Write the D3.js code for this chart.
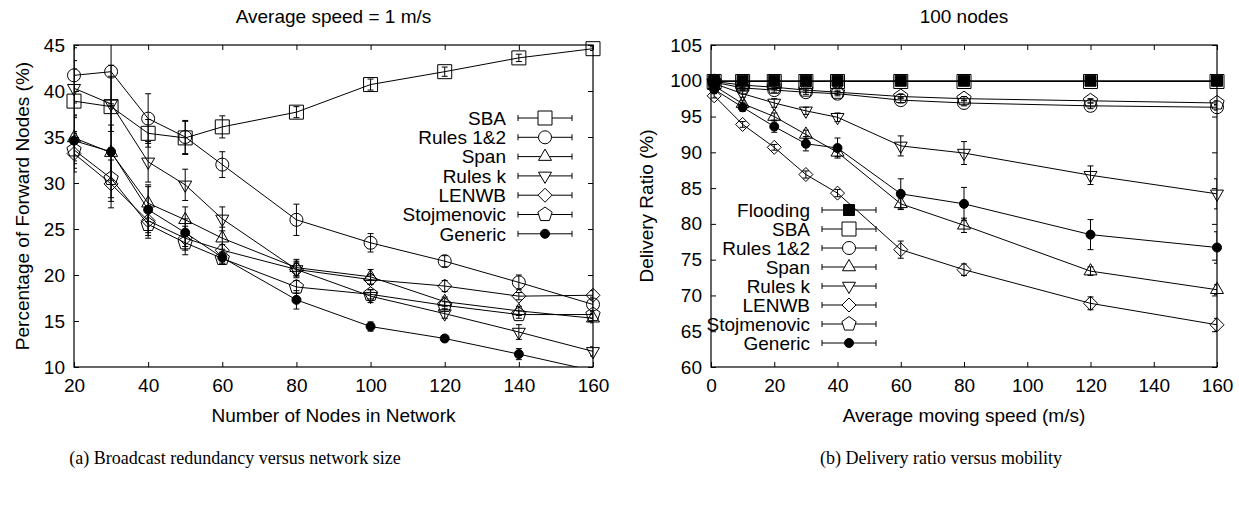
<!DOCTYPE html>
<html>
<head>
<meta charset="utf-8">
<title>Broadcast redundancy and delivery ratio</title>
<style>
  body { margin: 0; background: #fff; }
  svg text { font-family: "Liberation Sans", Arial, Helvetica, sans-serif; fill: #000; }
  .tick text { font-size: 19px; }
  .caption { font-family: "Liberation Serif", "Times New Roman", serif; font-size: 18px; }
</style>
<script src="https://d3js.org/d3.v7.min.js"></script>
</head>
<body>
<svg id="fig" width="1239" height="508"></svg>
<script>
// ---- (a) broadcast redundancy vs network size ----
var sizeNodes = [20, 30, 40, 50, 60, 80, 100, 120, 140, 160];
var sizeSBA     = [38.9, 38.3, 35.4, 34.9, 36.1, 37.7, 40.7, 42.1, 43.6, 44.6];
var sizeSBAErr  = [3.5, 4.5, 1.5, 1.8, 1.2, 0.6, 0.6, 0.5, 0.4, 0.2];
var sizeR12     = [41.7, 42.1, 37.0, 35.0, 32.0, 26.0, 23.5, 21.5, 19.2, 16.8];
var sizeR12Err  = [3.0, 3.5, 2.7, 1.8, 1.4, 1.7, 1.0, 0.6, 0.8, 0.8];
var sizeSpan    = [34.9, 33.3, 27.8, 26.0, 24.0, 20.8, 19.8, 17.1, 16.1, 15.3];
var sizeSpanErr = [2.5, 3.0, 2.0, 1.4, 1.2, 0.9, 0.8, 0.5, 0.5, 0.5];
var sizeRk      = [40.3, 38.6, 32.3, 29.8, 26.1, 20.6, 17.7, 15.8, 13.8, 11.7];
var sizeRkErr   = [3.0, 3.0, 2.2, 1.7, 1.3, 0.9, 0.7, 0.5, 0.8, 0.5];
var sizeLen     = [33.2, 29.9, 25.9, 24.0, 22.7, 20.6, 19.5, 18.8, 17.7, 17.8];
var sizeLenErr  = [2.0, 2.6, 1.6, 1.3, 0.6, 0.7, 0.5, 0.6, 0.4, 0.5];
var sizeStoj    = [33.6, 30.5, 25.5, 23.5, 21.8, 18.7, 17.9, 16.7, 15.7, 15.7];
var sizeStojErr = [2.0, 2.5, 1.5, 1.3, 0.6, 0.7, 0.5, 0.4, 0.4, 0.4];
var sizeGen     = [34.6, 33.4, 27.1, 24.6, 21.9, 17.3, 14.4, 13.1, 11.4, 9.6];
var sizeGenErr  = [2.5, 5.0, 2.5, 1.5, 0.6, 1.0, 0.5, 0.3, 0.6, 0.3];
var sizeXTicks = [20, 40, 60, 80, 100, 120, 140, 160];
var sizeYTicks = [10, 15, 20, 25, 30, 35, 40, 45];

// ---- (b) delivery ratio vs mobility ----
var speeds = [1, 10, 20, 30, 40, 60, 80, 120, 160];
var spFlood    = [100, 100, 100, 100, 100, 100, 100, 100, 100];
var spFloodErr = [0.05, 0.05, 0.05, 0.05, 0.05, 0.05, 0.05, 0.05, 0.05];
var spSBA      = [99.9, 99.9, 99.9, 99.9, 99.9, 99.9, 99.9, 99.9, 99.9];
var spSBAErr   = [0.1, 0.1, 0.1, 0.1, 0.1, 0.1, 0.1, 0.1, 0.1];
var spR12      = [99.8, 99.0, 98.7, 98.4, 98.2, 97.3, 96.9, 96.5, 96.3];
var spR12Err   = [0.1, 0.3, 0.3, 0.3, 0.3, 0.4, 0.4, 0.4, 0.4];
var spSpan     = [99.3, 96.8, 95.0, 92.5, 90.0, 82.8, 79.8, 73.4, 70.8];
var spSpanErr  = [0.2, 0.4, 0.5, 0.6, 0.6, 0.8, 1.0, 0.6, 0.7];
var spRk       = [99.6, 98.2, 96.9, 95.8, 94.9, 90.9, 89.9, 86.8, 84.2];
var spRkErr    = [0.2, 0.5, 0.6, 0.5, 0.6, 1.4, 1.6, 1.3, 2.1];
var spLen      = [97.9, 93.9, 90.7, 86.9, 84.3, 76.4, 73.6, 68.9, 65.9];
var spLenErr   = [0.3, 0.4, 0.4, 0.5, 0.5, 1.2, 0.8, 0.9, 0.9];
var spStoj     = [99.9, 99.4, 99.1, 98.7, 98.4, 97.8, 97.5, 97.2, 96.9];
var spStojErr  = [0.1, 0.3, 0.3, 0.3, 0.3, 0.3, 0.3, 0.3, 0.3];
var spGen      = [98.8, 96.3, 93.6, 91.2, 90.6, 84.2, 82.8, 78.5, 76.7];
var spGenErr   = [0.3, 0.6, 0.8, 1.0, 1.4, 2.1, 2.3, 2.1, 2.2];
var speedXTicks = [0, 20, 40, 60, 80, 100, 120, 140, 160];
var speedYTicks = [60, 65, 70, 75, 80, 85, 90, 95, 100, 105];

var svg = d3.select("#fig");

// marker paths, centred on 0,0
function poly(n, r, rot) {
  var pts = [];
  for (var i = 0; i < n; i++) {
    var a = rot + i * 2 * Math.PI / n;
    pts.push([r * Math.cos(a), r * Math.sin(a)]);
  }
  return "M" + pts.join("L") + "Z";
}
function markerPath(kind) {
  switch (kind) {
    case "square":  return "M-7,-7H7V7H-7Z";
    case "fsquare": return "M-5.5,-5.5H5.5V5.5H-5.5Z";
    case "circle":  return d3.symbol(d3.symbolCircle, Math.PI * 6.5 * 6.5)();
    case "dot":     return d3.symbol(d3.symbolCircle, Math.PI * 4.5 * 4.5)();
    case "tri":     return poly(3, 7.5, -Math.PI / 2);
    case "itri":    return poly(3, 7.5, Math.PI / 2);
    case "diamond": return poly(4, 7, 0);
    case "pent":    return poly(5, 7.5, -Math.PI / 2);
  }
}
function filled(kind) { return kind == "dot" || kind == "fsquare"; }

function panel(o) {
  var x = d3.scaleLinear().domain(o.xDomain).range([o.left, o.right]);
  var y = d3.scaleLinear().domain(o.yDomain).range([o.bottom, o.top]);
  var g = svg.append("g");

  var clipId = "clip" + o.id;
  g.append("clipPath").attr("id", clipId).append("rect")
    .attr("x", o.left).attr("y", o.top)
    .attr("width", o.right - o.left).attr("height", o.bottom - o.top);

  // axes with inside ticks on all four sides
  g.append("g").attr("transform", "translate(0," + o.bottom + ")")
    .call(d3.axisBottom(x).tickValues(o.xTicks).tickSize(-5).tickPadding(12).tickFormat(d3.format("d")));
  g.append("g").attr("transform", "translate(0," + o.top + ")")
    .call(d3.axisTop(x).tickValues(o.xTicks).tickSize(-5).tickFormat(""));
  g.append("g").attr("transform", "translate(" + o.left + ",0)")
    .call(d3.axisLeft(y).tickValues(o.yTicks).tickSize(-5).tickPadding(9).tickFormat(d3.format("d")));
  g.append("g").attr("transform", "translate(" + o.right + ",0)")
    .call(d3.axisRight(y).tickValues(o.yTicks).tickSize(-5).tickFormat(""));
  g.selectAll(".domain").remove();
  g.selectAll(".tick line").attr("stroke", "#000");

  g.append("rect").attr("x", o.left).attr("y", o.top)
    .attr("width", o.right - o.left).attr("height", o.bottom - o.top)
    .attr("fill", "none").attr("stroke", "#000").attr("stroke-width", 1.2);

  // labels
  g.append("text").attr("x", (o.left + o.right) / 2).attr("y", 23)
    .attr("text-anchor", "middle").style("font-size", "19px").text(o.title);
  g.append("text").attr("x", (o.left + o.right) / 2).attr("y", 422)
    .attr("text-anchor", "middle").style("font-size", "19px").text(o.xLabel);
  g.append("text").attr("transform", "translate(" + o.yLabelX + "," + ((o.top + o.bottom) / 2) + ") rotate(-90)")
    .attr("text-anchor", "middle").attr("dominant-baseline", "central")
    .style("font-size", "19px").text(o.yLabel);

  var line = d3.line().x(function (d) { return x(d[0]); }).y(function (d) { return y(d[1]); });

  o.series.forEach(function (s) {
    var pts = o.xs.map(function (xv, i) { return [xv, s.values[i], s.errs[i]]; });
    var sg = g.append("g");
    sg.append("path").attr("d", line(pts)).attr("fill", "none")
      .attr("stroke", "#000").attr("stroke-width", 1).attr("clip-path", "url(#" + clipId + ")");

    var inside = pts.filter(function (d) { return d[1] >= o.yDomain[0]; });
    var eb = sg.append("g").attr("stroke", "#000").attr("stroke-width", 1)
      .attr("clip-path", "url(#" + clipId + ")");
    inside.forEach(function (d) {
      var cx = x(d[0]), y1 = y(d[1] - d[2]), y2 = y(d[1] + d[2]);
      eb.append("line").attr("x1", cx).attr("x2", cx).attr("y1", y1).attr("y2", y2);
      eb.append("line").attr("x1", cx - 3).attr("x2", cx + 3).attr("y1", y1).attr("y2", y1);
      eb.append("line").attr("x1", cx - 3).attr("x2", cx + 3).attr("y1", y2).attr("y2", y2);
    });

    sg.selectAll("path.pt").data(inside).enter().append("path").attr("class", "pt")
      .attr("d", markerPath(s.marker))
      .attr("transform", function (d) { return "translate(" + x(d[0]) + "," + y(d[1]) + ")"; })
      .attr("fill", filled(s.marker) ? "#000" : "none")
      .attr("stroke", "#000").attr("stroke-width", 1);
  });

  // legend
  var lg = g.append("g");
  o.series.forEach(function (s, i) {
    var ly = o.legend.y + i * o.legend.step;
    var x1 = o.legend.x + 12, x2 = o.legend.x + 66, xm = (x1 + x2) / 2;
    lg.append("text").attr("x", o.legend.x).attr("y", ly).attr("dy", "0.36em")
      .attr("text-anchor", "end").style("font-size", "19px").text(s.name);
    lg.append("line").attr("x1", x1).attr("x2", x2).attr("y1", ly).attr("y2", ly).attr("stroke", "#000");
    lg.append("line").attr("x1", x1).attr("x2", x1).attr("y1", ly - 3).attr("y2", ly + 3).attr("stroke", "#000");
    lg.append("line").attr("x1", x2).attr("x2", x2).attr("y1", ly - 3).attr("y2", ly + 3).attr("stroke", "#000");
    lg.append("path").attr("d", markerPath(s.marker))
      .attr("transform", "translate(" + xm + "," + ly + ")")
      .attr("fill", filled(s.marker) ? "#000" : "#fff").attr("stroke", "#000");
  });
}

panel({
  id: "a", left: 74, right: 593, top: 45, bottom: 367,
  xDomain: [20, 160], yDomain: [10, 45], xTicks: sizeXTicks, yTicks: sizeYTicks,
  title: "Average speed = 1 m/s", xLabel: "Number of Nodes in Network",
  yLabel: "Percentage of Forward Nodes (%)", yLabelX: 22,
  xs: sizeNodes,
  legend: { x: 506, y: 118, step: 19.3 },
  series: [
    { name: "SBA", marker: "square", values: sizeSBA, errs: sizeSBAErr },
    { name: "Rules 1&2", marker: "circle", values: sizeR12, errs: sizeR12Err },
    { name: "Span", marker: "tri", values: sizeSpan, errs: sizeSpanErr },
    { name: "Rules k", marker: "itri", values: sizeRk, errs: sizeRkErr },
    { name: "LENWB", marker: "diamond", values: sizeLen, errs: sizeLenErr },
    { name: "Stojmenovic", marker: "pent", values: sizeStoj, errs: sizeStojErr },
    { name: "Generic", marker: "dot", values: sizeGen, errs: sizeGenErr }
  ]
});

panel({
  id: "b", left: 711, right: 1217, top: 45, bottom: 367,
  xDomain: [0, 160], yDomain: [60, 105], xTicks: speedXTicks, yTicks: speedYTicks,
  title: "100 nodes", xLabel: "Average moving speed (m/s)",
  yLabel: "Delivery Ratio (%)", yLabelX: 646,
  xs: speeds,
  legend: { x: 810, y: 210, step: 19 },
  series: [
    { name: "Flooding", marker: "fsquare", values: spFlood, errs: spFloodErr },
    { name: "SBA", marker: "square", values: spSBA, errs: spSBAErr },
    { name: "Rules 1&2", marker: "circle", values: spR12, errs: spR12Err },
    { name: "Span", marker: "tri", values: spSpan, errs: spSpanErr },
    { name: "Rules k", marker: "itri", values: spRk, errs: spRkErr },
    { name: "LENWB", marker: "diamond", values: spLen, errs: spLenErr },
    { name: "Stojmenovic", marker: "pent", values: spStoj, errs: spStojErr },
    { name: "Generic", marker: "dot", values: spGen, errs: spGenErr }
  ]
});

svg.append("text").attr("class", "caption").attr("x", 235).attr("y", 464)
  .attr("text-anchor", "middle").text("(a) Broadcast redundancy versus network size");
svg.append("text").attr("class", "caption").attr("x", 941).attr("y", 464)
  .attr("text-anchor", "middle").text("(b) Delivery ratio versus mobility");
</script>
</body>
</html>
